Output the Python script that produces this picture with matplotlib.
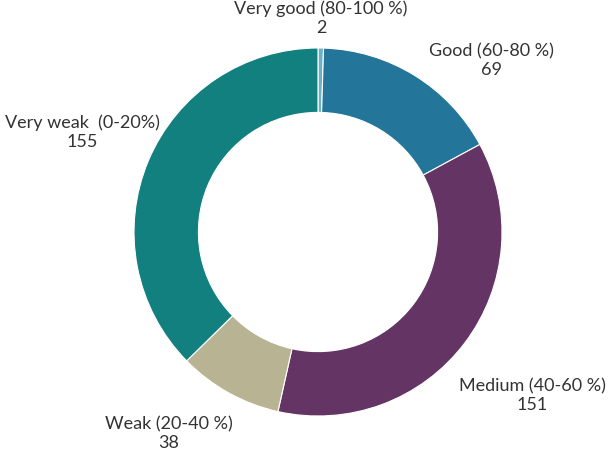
import matplotlib
matplotlib.use("Agg")
import matplotlib.pyplot as plt

categories = ["Very good (80-100 %)", "Good (60-80 %)", "Medium (40-60 %)", "Weak (20-40 %)", "Very weak  (0-20%)"]
values = [2, 69, 151, 38, 155]
colors = ["#6db1c4", "#24759a", "#633464", "#b8b392", "#138080"]
# label centres in pixels (x from left, y from top)
label_px = [(321, 18), (491, 61), (532, 396), (169, 434), (82, 132)]

W, H = 608, 450
cx, cy, R = 318, 232, 184

fig = plt.figure(figsize=(W / 100, H / 100), dpi=100)
ax = fig.add_axes([0, 0, 1, 1])
ax.pie(values, colors=colors, startangle=90, counterclock=False, radius=1,
       wedgeprops=dict(width=0.35, edgecolor="white", linewidth=0.8))
ax.set_xlim(-cx / R, (W - cx) / R)
ax.set_ylim(-(H - cy) / R, cy / R)
ax.set_aspect("equal")
ax.axis("off")

for cat, val, (px, py) in zip(categories, values, label_px):
    fig.text(px / W, 1 - py / H, f"{cat}\n{val}", ha="center", va="center",
             fontsize=13, color="#333333", family=["Lato", "DejaVu Sans"],
             linespacing=1.2)

fig.savefig("out.png", dpi=100)
